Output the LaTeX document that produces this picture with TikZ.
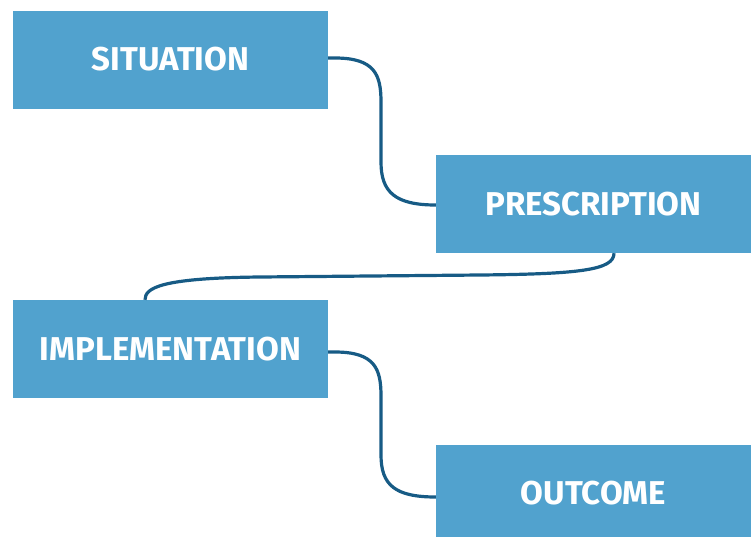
\documentclass[tikz,border=0pt]{standalone}
\usepackage{fontspec}
\setmainfont{Fira Sans}
\definecolor{boxblue}{HTML}{51A2CE}
\definecolor{linkblue}{HTML}{175B85}
\begin{document}
\begin{tikzpicture}[x=1pt,y=-1pt,
  box/.style={fill=boxblue,draw=none,minimum width=315pt,minimum height=98pt,inner sep=0pt,
    text=white,font=\fontsize{33}{38}\selectfont\bfseries},
  link/.style={draw=linkblue,line width=3.2pt}]
\useasboundingbox (0,0) rectangle (755,536);
\node[box] (sit) at (170.5,60) {\raisebox{2pt}{SITUATION}};
\node[box] (pre) at (593.5,204) {\raisebox{1pt}{PRESCRIPTION}};
\node[box] (imp) at (170.5,349) {\raisebox{1pt}{IMPLEMENTATION}};
\begin{scope}
\clip (0,0) rectangle (755,536);
\node[box] (out) at (593.5,494) {\raisebox{3pt}{OUTCOME}};
\end{scope}
\coordinate (s1) at (sit.east |- 0,58);
\coordinate (p1) at (pre.west |- 0,205);
\coordinate (i1) at (imp.east |- 0,352);
\coordinate (o1) at (out.west |- 0,497);
\coordinate (pb) at (pre.south -| 614,0);
\coordinate (it) at (imp.north -| 145,0);
\draw[link] (s1) -- (335,58) .. controls (375,58) and (381,75) .. (381,102)
  -- (381,162) .. controls (381,192) and (395,205) .. (p1);
\draw[link] (i1) -- (335,352) .. controls (375,352) and (381,369) .. (381,396)
  -- (381,455) .. controls (381,485) and (395,497) .. (o1);
\draw[link] (pb) .. controls (614,270) and (580,274) .. (480,275)
  -- (260,277) .. controls (160,278) and (145,288) .. (it);
\end{tikzpicture}
\end{document}
